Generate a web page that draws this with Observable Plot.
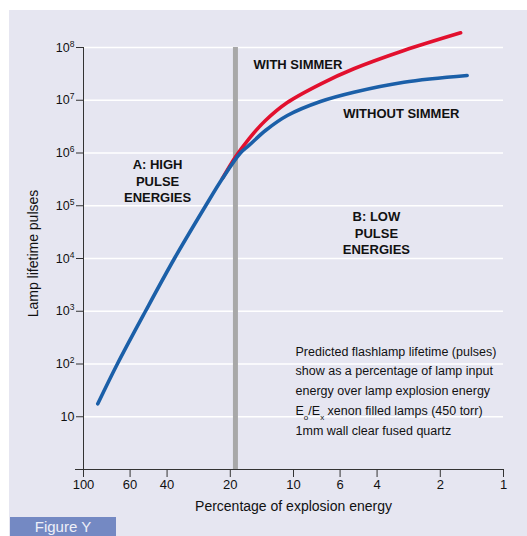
<!DOCTYPE html>
<html>
<head>
<meta charset="utf-8">
<script src="https://cdn.jsdelivr.net/npm/d3@7"></script>
<script src="https://cdn.jsdelivr.net/npm/@observablehq/plot@0.6"></script>
<style>
  html, body { margin: 0; padding: 0; background: #ffffff; }
  #wrap { position: relative; width: 527px; height: 536px; overflow: hidden; font-family: "Liberation Sans", Arial, sans-serif; }
  #bg { position: absolute; left: 9px; top: 10px; right: 0; bottom: 0; background: #e6e6f1; }
  #chart { position: absolute; left: 0; top: 0; }
  #fig { position: absolute; left: 10px; top: 517px; width: 106px; height: 19px; background: #7489c3; color: #eef0f8; font-size: 15px; line-height: 20px; text-align: center; }
</style>
</head>
<body>
<div id="wrap">
  <div id="bg"></div>
  <div id="chart"></div>
  <div id="fig">Figure Y</div>
</div>
<script>
// Tick values
const pctTicks = [100, 60, 40, 20, 10, 6, 4, 2, 1];
const pulseTicks = [10, 1e2, 1e3, 1e4, 1e5, 1e6, 1e7, 1e8];

// Series: without simmer (blue)
const withoutSimmerPct    = [85.5, 69, 50.7, 36.9, 26.2, 21.8, 17.9, 16.3, 13.6, 10.7, 7.44, 5.16, 2.98, 1.49];
const withoutSimmerPulses = [17.6, 100, 1000, 1e4, 1e5, 3.29e5, 1e6, 1.39e6, 2.67e6, 5.14e6, 9.47e6, 1.42e7, 2.2e7, 2.95e7];

// Series: with simmer (red)
const withSimmerPct    = [21.8, 18.9, 16.3, 13.6, 10.7, 7.44, 5.16, 2.98, 1.6];
const withSimmerPulses = [3.29e5, 8.4e5, 1.86e6, 4.13e6, 9.06e6, 2.03e7, 3.95e7, 8.77e7, 1.9e8];

// Boundary between regions A and B
const boundaryPct = [18.9];

// Labels
const seriesLabels = ["WITH SIMMER", "WITHOUT SIMMER"];
const seriesLabelPct = [15.5, 5.8];
const seriesLabelPulses = [4.6e7, 5.6e6];

const regionLabels = ["A: HIGH\nPULSE\nENERGIES", "B: LOW\nPULSE\nENERGIES"];
const regionLabelPct = [44.4, 4.03];
const regionLabelPulses = [3.0e5, 3.1e4];

const noteText = "Predicted flashlamp lifetime (pulses)\nshow as a percentage of lamp input\nenergy over lamp explosion energy\nE_o/E_x xenon filled lamps (450 torr)\n1mm wall clear fused quartz";
const notePct = [9.78];
const notePulses = [34];

const xLabel = "Percentage of explosion energy";
const yLabel = "Lamp lifetime pulses";

const without = withoutSimmerPct.map((p, i) => ({pct: p, pulses: withoutSimmerPulses[i]}));
const withS = withSimmerPct.map((p, i) => ({pct: p, pulses: withSimmerPulses[i]}));
const sLabels = seriesLabels.map((t, i) => ({t, pct: seriesLabelPct[i], pulses: seriesLabelPulses[i]}));
const rLabels = regionLabels.map((t, i) => ({t, pct: regionLabelPct[i], pulses: regionLabelPulses[i]}));
const notes = [{t: noteText, pct: notePct[0], pulses: notePulses[0]}];

const font = "Liberation Sans, Arial, sans-serif";

const chart = Plot.plot({
  width: 527,
  height: 536,
  marginLeft: 83,
  marginRight: 24,
  marginTop: 47,
  marginBottom: 67,
  style: {background: "transparent", fontFamily: font, color: "#111", overflow: "visible"},
  x: {type: "log", domain: [100, 1]},
  y: {type: "log", domain: [1, 1e8]},
  marks: [
    Plot.gridY(pulseTicks, {stroke: "#ffffff", strokeOpacity: 1, strokeWidth: 1.3}),
    Plot.ruleX(boundaryPct, {stroke: "#a8a8a8", strokeWidth: 5}),
    Plot.ruleX([100], {stroke: "#333"}),
    Plot.ruleY([1], {stroke: "#333", insetLeft: -8}),
    Plot.axisY(pulseTicks, {
      tickSize: 7, tickPadding: 2, fontSize: 12.5, stroke: "#333", label: null,
      tickFormat: d => d === 10 ? "10" : "10^" + Math.round(Math.log10(d))
    }),
    Plot.axisX(pctTicks, {
      tickSize: 8, stroke: "#333", label: null, tickFormat: () => ""
    }),
    Plot.text(pctTicks, {x: d => d, text: d => String(d), frameAnchor: "bottom", lineAnchor: "top", dy: 10, fontSize: 13, fill: "#111"}),
    Plot.line(withS, {x: "pct", y: "pulses", stroke: "#e2102e", strokeWidth: 3.6, curve: "catmull-rom"}),
    Plot.line(without, {x: "pct", y: "pulses", stroke: "#1b5fa8", strokeWidth: 3.6, curve: "catmull-rom"}),
    Plot.text(sLabels, {x: "pct", y: "pulses", text: "t", textAnchor: "start", fontWeight: "bold", fontSize: 13, fill: "#111"}),
    Plot.text(rLabels, {x: "pct", y: "pulses", text: "t", textAnchor: "middle", lineHeight: 1.27, fontWeight: "bold", fontSize: 13, fill: "#111"}),
    Plot.text(notes, {x: "pct", y: "pulses", text: "t", textAnchor: "start", lineHeight: 1.58, fontSize: 12.5, fill: "#111"}),
    Plot.text([xLabel], {text: d => d, frameAnchor: "bottom", lineAnchor: "middle", textAnchor: "middle", dy: 37, fontSize: 14, fill: "#111"}),
    Plot.text([yLabel], {text: d => d, frameAnchor: "left", lineAnchor: "middle", textAnchor: "middle", rotate: -90, dx: -50, dy: -5, fontSize: 14, fill: "#111"})
  ]
});

document.getElementById("chart").appendChild(chart);

// Superscript exponents on the y tick labels
d3.select(chart).selectAll('g[aria-label="y-axis tick label"] text').each(function () {
  const t = this.textContent;
  if (t.includes("^")) {
    const [b, e] = t.split("^");
    const sel = d3.select(this);
    sel.text(null);
    sel.append("tspan").text(b);
    sel.append("tspan").attr("baseline-shift", "super").attr("font-size", "8.5px").text(e);
  }
});

// Subscripts in the note
d3.select(chart).selectAll("text tspan").each(function () {
  const t = this.textContent;
  if (t.startsWith("E_o/E_x")) {
    const rest = t.slice("E_o/E_x".length);
    const sel = d3.select(this);
    sel.text(null);
    sel.append("tspan").text("E");
    sel.append("tspan").attr("baseline-shift", "sub").attr("font-size", "8px").text("o");
    sel.append("tspan").text("/E");
    sel.append("tspan").attr("baseline-shift", "sub").attr("font-size", "8px").text("x");
    sel.append("tspan").text(rest);
  }
});
</script>
</body>
</html>
